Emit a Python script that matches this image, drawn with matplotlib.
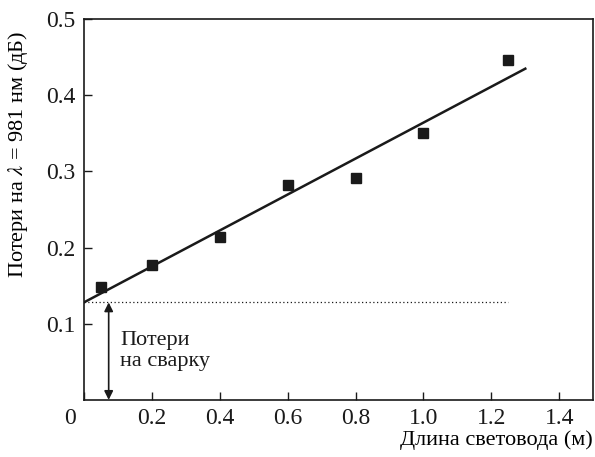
import matplotlib

matplotlib.use("Agg")
import matplotlib.pyplot as plt
from matplotlib.transforms import ScaledTranslation

plt.rcParams["font.family"] = ["Liberation Serif", "DejaVu Serif"]
plt.rcParams["mathtext.fontset"] = "stix"

# measured points
length_m = [0.05, 0.2, 0.4, 0.6, 0.8, 1.0, 1.25]
loss_db = [0.148, 0.177, 0.214, 0.282, 0.292, 0.351, 0.447]

# fitted line end points
fit_x = [0.0, 1.30]
fit_y = [0.128, 0.435]
splice_loss = 0.128
splice_line_end = 1.25
arrow_x = 0.073

fig = plt.figure(figsize=(5.95, 4.57), dpi=100)
ax = fig.add_axes([0.141, 0.125, 0.856, 0.833])

ax.plot(fit_x, fit_y, color="#1a1a1a", lw=1.8)
ax.plot(length_m, loss_db, "s", color="#1a1a1a", ms=7)
ax.plot([0, splice_line_end], [splice_loss, splice_loss], color="#1a1a1a", lw=0.9, ls=(0, (1, 2)))

ax.annotate("", xy=(arrow_x, 0), xytext=(arrow_x, splice_loss),
            arrowprops=dict(arrowstyle="<|-|>", color="#1a1a1a", lw=1.2,
                            mutation_scale=13, shrinkA=0, shrinkB=0))
ax.text(arrow_x + 0.033, 0.09, "Потери\nна сварку", fontsize=16, va="top", ha="left",
        linespacing=1.15, color="#1a1a1a")

ax.set_xlim(0, 1.5)
ax.set_ylim(0, 0.5)
ax.set_xticks([0, 0.2, 0.4, 0.6, 0.8, 1.0, 1.2, 1.4])
ax.set_xticklabels(["0", "0.2", "0.4", "0.6", "0.8", "1.0", "1.2", "1.4"])
ax.set_yticks([0.1, 0.2, 0.3, 0.4, 0.5])
ax.set_yticklabels(["0.1", "0.2", "0.3", "0.4", "0.5"])
ax.tick_params(direction="in", length=6, width=1, labelsize=17, colors="#1a1a1a")
ax.tick_params(axis="x", pad=6)
ax.tick_params(axis="y", pad=6)
for s in ax.spines.values():
    s.set_linewidth(1.2)
    s.set_color("#1a1a1a")

# the "0" sits left of the origin in the original
zero_lbl = ax.get_xticklabels()[0]
zero_lbl.set_transform(zero_lbl.get_transform() + ScaledTranslation(-0.14, 0, fig.dpi_scale_trans))

ax.set_xlabel("Длина световода (м)", fontsize=16, loc="right", labelpad=1)
ax.set_ylabel("Потери на $\\mathit{\\lambda}$ = 981 нм (дБ)", fontsize=16)
ax.yaxis.set_label_coords(-0.105, 0.645)

fig.savefig("out.png", dpi=100)
